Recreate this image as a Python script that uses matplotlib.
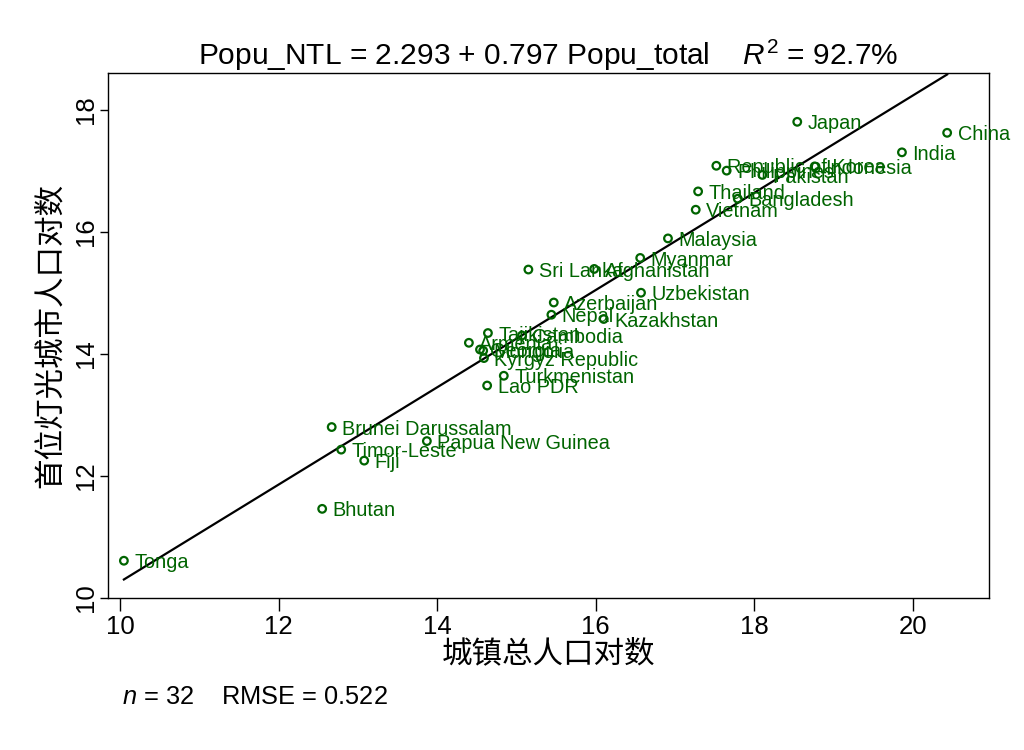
import numpy as np
import matplotlib.pyplot as plt

plt.rcParams['font.family'] = ['Liberation Sans', 'Noto Sans CJK SC', 'DejaVu Sans']
plt.rcParams['mathtext.fontset'] = 'custom'
plt.rcParams['mathtext.rm'] = 'Liberation Sans'
plt.rcParams['mathtext.it'] = 'Liberation Sans:italic'

# data
countries = ['Tonga', 'Bhutan', 'Fiji', 'Timor-Leste', 'Brunei Darussalam', 'Papua New Guinea',
             'Lao PDR', 'Turkmenistan', 'Kyrgyz Republic', 'Mongolia', 'Georgia', 'Armenia',
             'Tajikistan', 'Cambodia', 'Nepal', 'Azerbaijan', 'Kazakhstan', 'Uzbekistan',
             'Sri Lanka', 'Afghanistan', 'Myanmar', 'Malaysia', 'Vietnam', 'Thailand',
             'Bangladesh', 'Republic of Korea', 'Philippines', 'Pakistan', 'Indonesia',
             'Japan', 'India', 'China']
popu_total = [10.05, 12.55, 13.08, 12.79, 12.67, 13.87,
              14.63, 14.84, 14.59, 14.58, 14.54, 14.40,
              14.64, 15.07, 15.44, 15.47, 16.10, 16.57,
              15.15, 15.98, 16.56, 16.91, 17.26, 17.29,
              17.79, 17.52, 17.65, 18.10, 18.76,
              18.54, 19.86, 20.43]
popu_ntl = [10.61, 11.46, 12.25, 12.43, 12.80, 12.57,
            13.48, 13.64, 13.93, 14.05, 14.07, 14.18,
            14.34, 14.30, 14.64, 14.84, 14.57, 15.00,
            15.38, 15.39, 15.57, 15.89, 16.36, 16.66,
            16.54, 17.08, 17.00, 16.93, 17.07,
            17.80, 17.30, 17.62]
intercept = 2.293
slope = 0.797
xticks = [10, 12, 14, 16, 18, 20]
yticks = [10, 12, 14, 16, 18]

fig = plt.figure(figsize=(10.24, 7.5), dpi=100)
ax = fig.add_axes([0.1055, 0.2027, 0.8605, 0.70])

green = '#006400'
ax.scatter(popu_total, popu_ntl, s=30, facecolors='none', edgecolors=green, linewidths=1.6, zorder=3)
for name, x, y in zip(countries, popu_total, popu_ntl):
    ax.annotate(name, (x, y), xytext=(7.5, -1.5), textcoords='offset points',
                va='center', ha='left', fontsize=14.3, color=green)

xs = np.array([min(popu_total), max(popu_total)])
ax.plot(xs, intercept + slope * xs, color='black', lw=1.6, zorder=2)

ax.set_xlim(9.85, 20.96)
ax.set_ylim(10, 18.6)
ax.set_xticks(xticks)
ax.set_yticks(yticks)
ax.tick_params(labelsize=18.5, width=1, direction='out')
ax.tick_params(axis='x', length=9)
ax.tick_params(axis='y', length=6, pad=1)
plt.setp(ax.get_yticklabels(), rotation=90, va='center')
for s in ax.spines.values():
    s.set_linewidth(1)

ax.set_xlabel('城镇总人口对数', fontsize=22, labelpad=0)
ax.set_ylabel('首位灯光城市人口对数', fontsize=22, labelpad=6)
ax.set_title('Popu_NTL = 2.293 + 0.797 Popu_total    $\\mathit{R}^2$ = 92.7%', fontsize=21.5, pad=6)

fig.text(0.119, 0.07, '$\\mathit{n}$ = 32    RMSE = 0.522', fontsize=18.3, va='center', ha='left')

fig.savefig('out.png', dpi=100)
